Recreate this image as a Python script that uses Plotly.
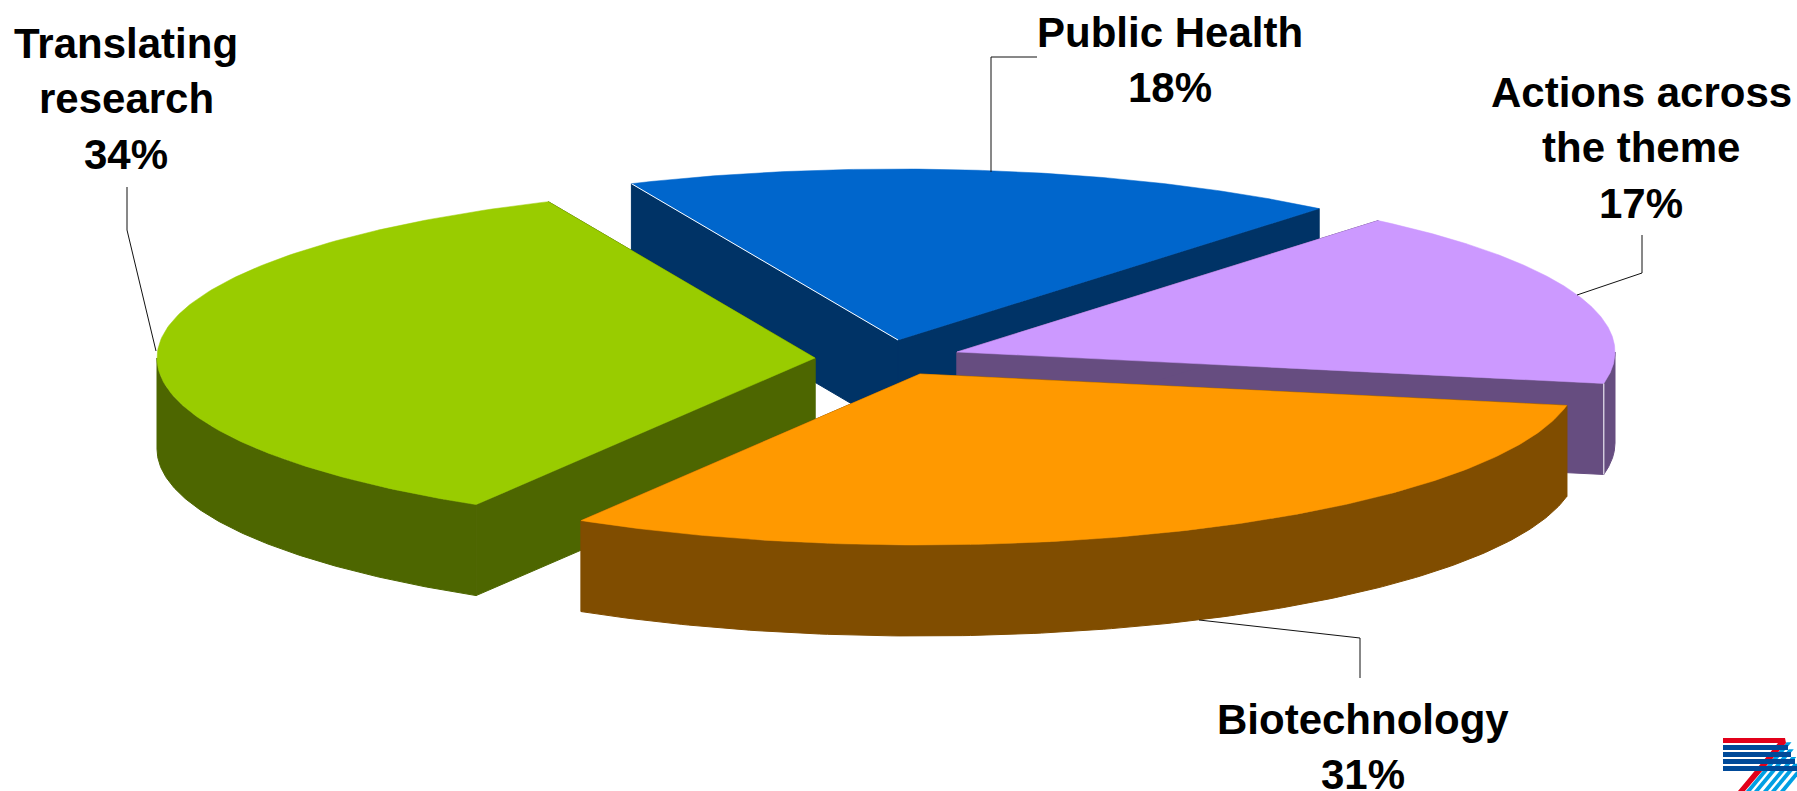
import numpy as np
import plotly.graph_objects as go

# ---- data ----
categories = ["Translating research", "Biotechnology", "Actions across the theme", "Public Health"]
values = [34, 31, 17, 18]
label_lines = [["Translating", "research", "34%"],
               ["Biotechnology", "31%"],
               ["Actions across", "the theme", "17%"],
               ["Public Health", "18%"]]

# ---- styles / geometry ----
top_colors = ["#99CC00", "#FF9900", "#CC99FF", "#0066CC"]
wall_colors = ["#4D6600", "#804D00", "#664D80", "#003366"]
apex_x = [815, 920, 957, 898]
apex_y = [358, 374, 352, 340]
draw_order = [3, 2, 0, 1]
RX, RY, DEPTH = 658, 171, 91
START_DEG = 115
edge_nudge_deg = [-1.1, 1.6, 0.4, 0.0, -1.1]   # small shift of each slice edge from the 3-D view's perspective
label_x = [126, 1363, 1641, 1170]
label_y = [43, 719, 92, 32]
LINE_STEP = 55.5
FONT_SIZE = 42
leaders = [[(127, 187), (127, 230), (156, 351)],
           [(1199, 620), (1360, 638), (1360, 678)],
           [(1642, 235), (1642, 273), (1577, 295)],
           [(1037, 57), (991, 57), (991, 172)]]

fig = go.Figure()


def poly(xs, ys, color, width=1):
    fig.add_trace(go.Scatter(x=list(xs), y=list(ys), mode="lines", fill="toself", fillcolor=color,
                             line=dict(color=color, width=width), hoverinfo="skip", showlegend=False))


nominal = START_DEG + 3.6 * np.concatenate([[0], np.cumsum(values)])
edges = nominal + np.array(edge_nudge_deg)
for i in draw_order:
    t0, t1 = edges[i], edges[i + 1]
    cx, cy = apex_x[i], apex_y[i]
    t = np.radians(np.linspace(t0, t1, 160))
    ax = cx + RX * np.cos(t)
    ay = cy - RY * np.sin(t)
    # radial side walls
    for px, py in ((ax[0], ay[0]), (ax[-1], ay[-1])):
        poly([cx, px, px, cx, cx], [cy, py, py + DEPTH, cy + DEPTH, cy], wall_colors[i])
    # outer rim wall: only the part that faces the viewer
    for lo, hi in ((180, 360), (540, 720)):
        a, b = max(t0, lo), min(t1, hi)
        if a < b:
            r = np.radians(np.linspace(a, b, 160))
            rx = cx + RX * np.cos(r)
            ry = cy - RY * np.sin(r)
            poly(np.r_[rx, rx[::-1], rx[0]], np.r_[ry, ry[::-1] + DEPTH, ry[0]], wall_colors[i])
    # top face
    poly(np.r_[cx, ax, cx], np.r_[cy, ay, cy], top_colors[i], width=0.5)
    if categories[i] == "Public Health":
        fig.add_trace(go.Scatter(x=[ax[-1], cx], y=[ay[-1], cy], mode="lines",
                                 line=dict(color="white", width=1), hoverinfo="skip", showlegend=False))
    if categories[i].startswith("Actions"):
        fig.add_trace(go.Scatter(x=[ax[0], ax[0]], y=[ay[0], ay[0] + DEPTH], mode="lines",
                                 line=dict(color="#E8E4EE", width=1.2), hoverinfo="skip", showlegend=False))

# leader lines
for pts in leaders:
    fig.add_trace(go.Scatter(x=[p[0] for p in pts], y=[p[1] for p in pts], mode="lines",
                             line=dict(color="#111111", width=1), hoverinfo="skip", showlegend=False))

# labels, one annotation per line
for lines, lx, ly in zip(label_lines, label_x, label_y):
    for k, line in enumerate(lines):
        fig.add_annotation(x=lx, y=ly + k * LINE_STEP, text=f"<b>{line}</b>", showarrow=False,
                           xanchor="center", yanchor="middle",
                           font=dict(family="Liberation Sans", size=FONT_SIZE, color="black"))

# small logo in the corner
shapes = []
for x0 in (1746, 1754, 1763, 1771, 1780):
    ytop = (x0 + 900 - 1785) / 1.16
    shapes.append(dict(type="path", fillcolor="#009FE3", line_width=0, layer="above",
                       path=f"M{x0},791 L{x0 + 5},791 L{x0 + 5 + (791 - ytop) * .83},{ytop} L{x0 + (791 - ytop) * .83},{ytop} Z"))
shapes.append(dict(type="path", fillcolor="#E2001A", line_width=0, layer="above",
                   path="M1723,738 L1785,738 L1786,743 L1745,791 L1738,791 L1778,743 L1723,743 Z"))
for y0, x1 in ((745, 1788), (752, 1791), (759, 1795), (766, 1797)):
    shapes.append(dict(type="rect", x0=1723, x1=x1, y0=y0, y1=y0 + 5, fillcolor="#004A99", line_width=0, layer="above"))

fig.update_layout(width=1797, height=791, margin=dict(l=0, r=0, t=0, b=0), autosize=False,
                  paper_bgcolor="white", plot_bgcolor="white", shapes=shapes,
                  xaxis=dict(range=[0, 1797], visible=False, fixedrange=True),
                  yaxis=dict(range=[791, 0], visible=False, fixedrange=True))
fig.write_html("out.html", config={"displayModeBar": False},
               post_script="document.body.style.margin='0';document.documentElement.style.overflow='hidden';")
